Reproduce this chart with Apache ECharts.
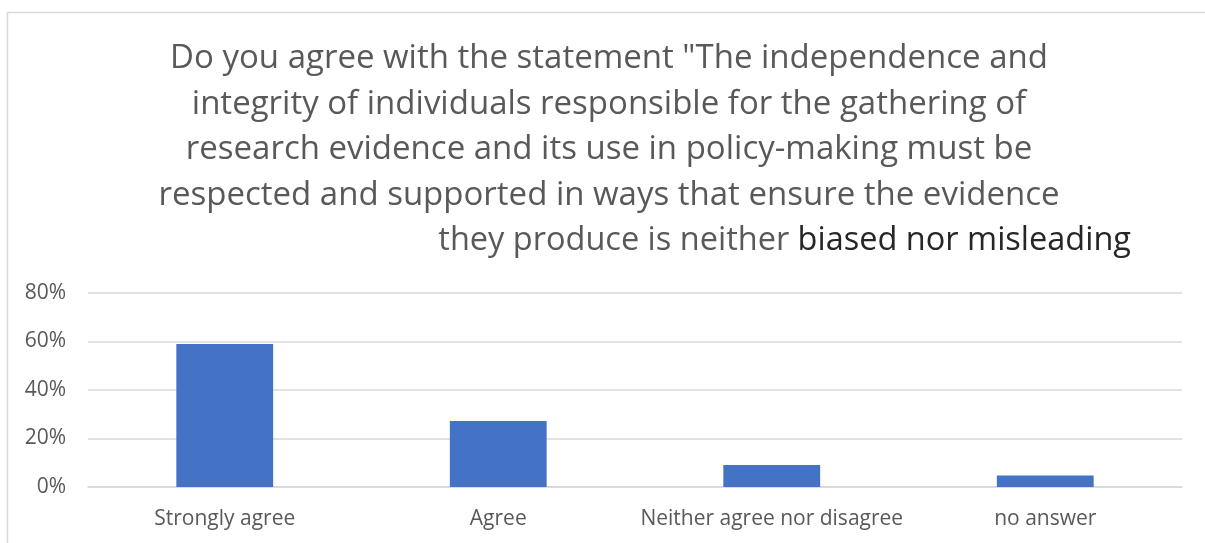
<!DOCTYPE html>
<html>
<head>
<meta charset="utf-8">
<script src="https://cdn.jsdelivr.net/npm/echarts@6/dist/echarts.min.js"></script>
<style>
  html, body { margin: 0; padding: 0; background: #ffffff; }
  #chart { width: 1205px; height: 543px; }
</style>
</head>
<body>
<div id="chart"></div>
<script>
// Survey answers, share of respondents (%)
const categories = ['Strongly agree', 'Agree', 'Neither agree nor disagree', 'no answer'];
const shares = [59.0, 27.2, 9.1, 4.7];
const yTicks = { min: 0, max: 80, interval: 20 };

const titleLines = [
  'Do you agree with the statement "The independence and',
  'integrity of individuals responsible for the gathering of',
  'research evidence and its use in policy-making must be',
  'respected and supported in ways that ensure the evidence'
];
const titleTail = ['they produce is neither ', 'biased nor misleading'];

const FONT = '"Open Sans", "Noto Sans", sans-serif';
const chart = echarts.init(document.getElementById('chart'), null, { renderer: 'canvas' });

chart.setOption({
  backgroundColor: '#ffffff',
  animation: false,
  grid: { left: 88, right: 23, top: 293, bottom: 56, containLabel: false },
  xAxis: {
    type: 'category',
    data: categories,
    axisTick: { show: false },
    axisLine: { show: true, lineStyle: { color: '#d9d9d9', width: 1.5 } },
    axisLabel: { color: '#595959', fontFamily: FONT, fontSize: 21, margin: 22, interval: 0 }
  },
  yAxis: {
    type: 'value',
    min: yTicks.min,
    max: yTicks.max,
    interval: yTicks.interval,
    axisLine: { show: false },
    axisTick: { show: false },
    splitLine: { lineStyle: { color: '#d9d9d9', width: 1.5 } },
    axisLabel: {
      color: '#595959', fontFamily: FONT, fontSize: 21, margin: 22,
      formatter: v => v + '%'
    }
  },
  series: [{
    type: 'bar',
    data: shares,
    barWidth: '35.4%',
    itemStyle: { color: '#4472c4' },
    silent: true
  }],
  graphic: [
    {
      type: 'rect',
      shape: { x: 7.5, y: 12.5, width: 1300, height: 600 },
      style: { fill: 'none', stroke: '#d9d9d9', lineWidth: 1.5 },
      silent: true
    },
    {
      type: 'text',
      x: 609,
      y: 36,
      style: {
        text: titleLines.join('\n'),
        align: 'center',
        verticalAlign: 'top',
        lineHeight: 45.5,
        fill: '#595959',
        font: '33px ' + FONT
      },
      silent: true
    },
    {
      type: 'text',
      x: 1131,
      y: 218,
      style: {
        text: '{a|' + titleTail[0] + '}{b|' + titleTail[1] + '}',
        align: 'right',
        verticalAlign: 'top',
        rich: {
          a: { fill: '#595959', fontSize: 32.5, fontFamily: FONT, lineHeight: 45.5 },
          b: { fill: '#262626', fontSize: 32.5, fontFamily: FONT, lineHeight: 45.5 }
        }
      },
      silent: true
    }
  ]
});
</script>
</body>
</html>
